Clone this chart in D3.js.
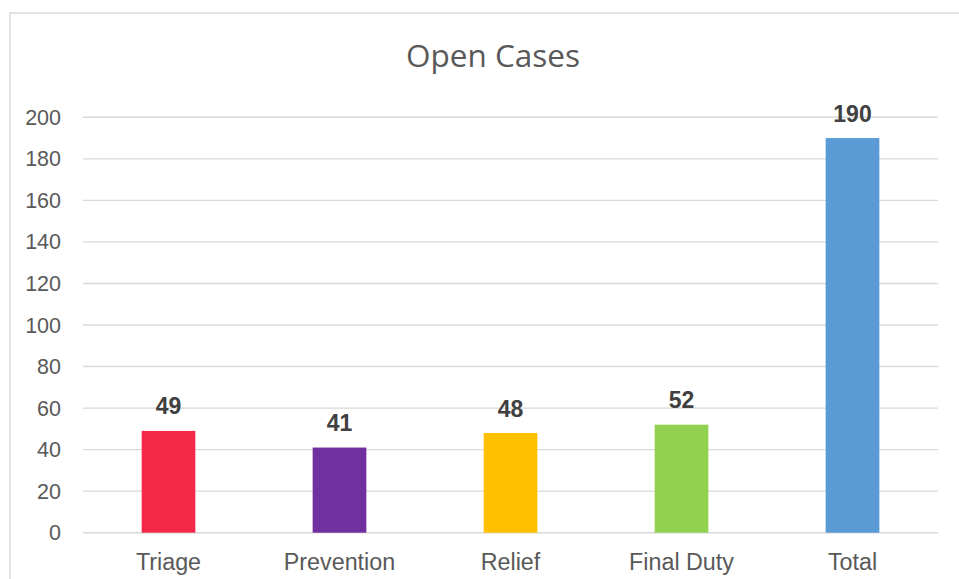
<!DOCTYPE html>
<html><head><meta charset="utf-8">
<script src="https://cdn.jsdelivr.net/npm/d3@7"></script>
<style>body{margin:0;background:#fff}</style>
</head><body>
<svg id="c" width="959" height="579"></svg>
<script>
const categories = ["Triage", "Prevention", "Relief", "Final Duty", "Total"];
const values = [49, 41, 48, 52, 190];
const colors = ["#F5284A", "#7030A0", "#FFC000", "#92D050", "#5B9BD5"];
const yTicks = [0, 20, 40, 60, 80, 100, 120, 140, 160, 180, 200];
const title = "Open Cases";

const svg = d3.select("#c");
svg.append("rect").attr("x", 10).attr("y", 13).attr("width", 980).attr("height", 600)
  .attr("fill", "#fff").attr("stroke", "#d9d9d9").attr("stroke-width", 1.5);

const x = d3.scaleBand().domain(categories).range([83, 938]).paddingInner(0.686).paddingOuter(0.343);
const y = d3.scaleLinear().domain([0, 200]).range([532.7, 117.3]);

svg.append("g").selectAll("line").data(yTicks).join("line")
  .attr("x1", 83).attr("x2", 938)
  .attr("y1", d => y(d)).attr("y2", d => y(d))
  .attr("stroke", "#d9d9d9").attr("stroke-width", 1.4);

svg.append("g").selectAll("text").data(yTicks).join("text")
  .attr("x", 61).attr("y", d => y(d)).attr("dy", "0.35em")
  .attr("text-anchor", "end").attr("font-family", "Liberation Sans, Arial, sans-serif")
  .attr("font-size", 21.5).attr("fill", "#595959").text(d => d);

svg.append("g").selectAll("rect").data(values).join("rect")
  .attr("x", (d, i) => x(categories[i])).attr("width", x.bandwidth())
  .attr("y", d => y(d)).attr("height", d => y(0) - y(d))
  .attr("fill", (d, i) => colors[i]);

svg.append("g").selectAll("text").data(values).join("text")
  .attr("x", (d, i) => x(categories[i]) + x.bandwidth() / 2)
  .attr("y", d => y(d) - 16.5)
  .attr("text-anchor", "middle").attr("font-family", "Liberation Sans, Arial, sans-serif")
  .attr("font-weight", "bold").attr("font-size", 23).attr("fill", "#404040").text(d => d);

svg.append("g").selectAll("text").data(categories).join("text")
  .attr("x", d => x(d) + x.bandwidth() / 2).attr("y", 569.5)
  .attr("text-anchor", "middle").attr("font-family", "Liberation Sans, Arial, sans-serif")
  .attr("font-size", 23.3).attr("fill", "#595959").text(d => d);

svg.append("text").attr("x", 493).attr("y", 67).attr("text-anchor", "middle")
  .attr("font-family", "Open Sans, sans-serif").attr("font-size", 31.5)
  .attr("fill", "#595959").text(title);
</script>
</body></html>
